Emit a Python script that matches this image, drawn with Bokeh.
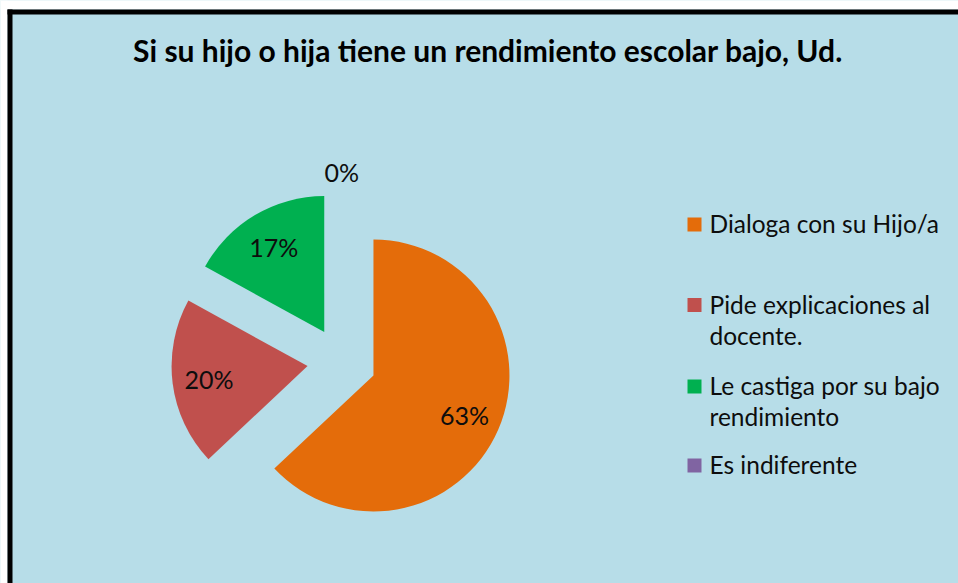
import math
from bokeh.plotting import figure
from bokeh.models import Range1d, BoxAnnotation, ColumnDataSource
from bokeh.core.properties import value
from bokeh.embed import file_html
from bokeh.resources import INLINE

# ---- data ----
title = "Si su hijo o hija tiene un rendimiento escolar bajo, Ud."
categories = ["Dialoga con su Hijo/a", "Pide explicaciones al\ndocente.",
              "Le castiga por su bajo\nrendimiento", "Es indiferente"]
values = [63, 20, 17, 0]
colors = ["#E46C0A", "#C0504D", "#00B050", "#8064A2"]

W, H = 958, 583
BG = "#B7DDE8"
FONT = "Lato"

p = figure(width=W, height=H, output_backend="svg", toolbar_location=None,
           x_range=Range1d(0, W), y_range=Range1d(0, H),
           x_axis_location=None, y_axis_location=None,
           min_border=0, background_fill_color=BG, border_fill_color=BG)
p.grid.visible = False
p.outline_line_color = None

# page margin outside the chart frame, then the frame's left and top edges
p.add_layout(BoxAnnotation(left=-10, right=7, fill_color="white", fill_alpha=1, line_color=None))
p.add_layout(BoxAnnotation(bottom=574, top=600, fill_color="white", fill_alpha=1, line_color=None))
p.add_layout(BoxAnnotation(left=7, right=12, bottom=-10, top=574, fill_color="black", fill_alpha=1, line_color=None))
p.add_layout(BoxAnnotation(left=7, bottom=569, top=574, fill_color="black", fill_alpha=1, line_color=None))

# ---- pie ----
cx, cy = 341.3, 221.7
R = 136
explode = 34.5
total = float(sum(values))
starts, ends, xs, ys, cs = [], [], [], [], []
lx, ly, labels = [], [], []
acc = 0.0
for v, c in zip(values, colors):
    a0 = math.pi / 2 - 2 * math.pi * acc / total
    acc += v
    a1 = math.pi / 2 - 2 * math.pi * acc / total
    mid = (a0 + a1) / 2
    ox = cx + explode * math.cos(mid)
    oy = cy + explode * math.sin(mid)
    if v > 0:
        starts.append(a0); ends.append(a1); xs.append(ox); ys.append(oy); cs.append(c)
    lr = R * (0.73 if v > 0 else 1.14)
    lx.append(ox + lr * math.cos(mid)); ly.append(oy + lr * math.sin(mid))
    labels.append(f"{round(100 * v / total)}%")

src = ColumnDataSource(dict(x=xs, y=ys, s=starts, e=ends, c=cs))
p.wedge(x="x", y="y", radius=R, start_angle="s", end_angle="e", direction="clock",
        fill_color="c", line_color=None, source=src)
p.text(x=lx, y=ly, text=labels, text_font=value(FONT), text_font_size="25px",
       text_color="#0D0D0D", text_align="center", text_baseline="middle")

# ---- title ----
p.text(x=[487.5], y=[533.8], text=[title], text_font=value(FONT), text_font_style="bold",
       text_font_size="30px", text_color="#000000", text_align="center", text_baseline="middle")

# ---- legend ----
leg_x = 694
leg_y = [359, 278.5, 197, 118]
line_gap = 31
p.scatter(x=[leg_x] * len(categories), y=leg_y, marker="square", size=14,
          fill_color=colors, line_color=None)
tx, ty, tt = [], [], []
for yy, lab in zip(leg_y, categories):
    for i, ln in enumerate(lab.split("\n")):
        tx.append(leg_x + 15); ty.append(yy + 1 - i * line_gap); tt.append(ln)
p.text(x=tx, y=ty, text=tt, text_font=value(FONT), text_font_size="24.5px",
       text_color="#0D0D0D", text_align="left", text_baseline="middle")

open("out.html", "w").write(file_html(p, INLINE))
